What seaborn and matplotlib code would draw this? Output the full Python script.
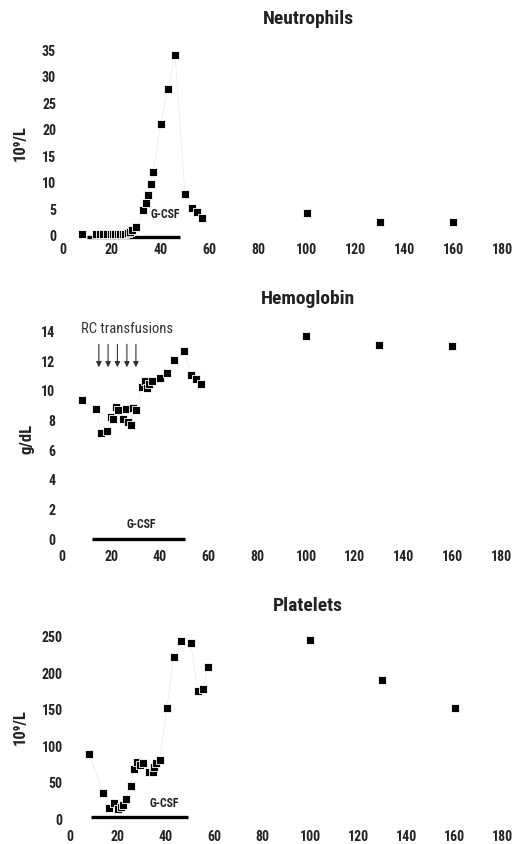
import numpy as np
import pandas as pd
import matplotlib
matplotlib.use("Agg")
import matplotlib.pyplot as plt
import matplotlib.font_manager as fm
import seaborn as sns

# days after transplant / values
neu_days = [8, 13.5, 15, 16.5, 18, 19.5, 20.5, 21.5, 22.5, 23.5, 24.5, 25.5, 26.5, 27.5, 28.5, 30,
            33, 34, 35, 36, 37, 40, 43, 46, 50, 53, 55, 57, 100, 130, 160]
neu_vals = [0.3, 0.3, 0.3, 0.3, 0.3, 0.3, 0.3, 0.3, 0.3, 0.3, 0.4, 0.4, 0.6, 0.8, 1.1, 1.6,
            4.9, 6.2, 7.7, 9.8, 12.0, 21.1, 27.6, 34.0, 7.9, 5.3, 4.5, 3.3, 4.4, 2.7, 2.7]

hb_days = [8, 14, 15.7, 18.2, 20, 21, 22, 23, 25, 26, 27, 28, 29, 30.3,
           32.6, 34.0, 34.9, 35.6, 36.9, 40, 43, 46, 50, 53, 55, 57, 100, 130, 160]
hb_vals = [9.4, 8.8, 7.2, 7.3, 8.25, 8.1, 8.95, 8.75, 8.1, 8.8, 7.9, 7.7, 8.85, 8.7,
           10.3, 10.7, 10.2, 10.45, 10.67, 10.9, 11.2, 12.1, 12.7, 11.1, 10.8, 10.5, 13.7, 13.1, 13.0]

plt_days = [8, 14, 16.3, 18.3, 20.2, 21.5, 22.3, 23.3, 25.5, 26.5, 27.9, 29, 30.4, 33.1, 34.4,
            35.1, 36, 37.4, 40.4, 43.2, 46.4, 50.3, 53.3, 55.5, 57.4, 100, 130, 160]
plt_vals = [89, 36, 15, 22, 14, 17, 19, 28, 46, 69, 78, 74, 77, 65, 65,
            72, 77, 81, 153, 222, 244, 241, 175, 179, 209, 246, 191, 152]

# G-CSF administration windows (start, end, y level)
gcsf_neu = [10, 48, -0.25]
gcsf_hb = [12, 50.3, 0]
gcsf_plt = [9, 49, 3]

# red cell transfusion days
rc_days = [15, 18.8, 22.6, 26.5, 30.2]

x_ticks = [0, 20, 40, 60, 80, 100, 120, 140, 160, 180]

sns.set_theme(style="white")

# pick a narrow font if there is one
names = {f.name for f in fm.fontManager.ttflist}
fam, stretch = None, "normal"
for n in ["Liberation Sans Narrow", "Roboto Condensed", "Open Sans Condensed",
          "Noto Sans Condensed", "DejaVu Sans Condensed"]:
    if n in names:
        fam = n
        break
if fam is None:
    for n in ["Noto Sans", "Roboto", "Open Sans", "DejaVu Sans"]:
        if any(f.name == n and str(f.stretch) in ("condensed", "semi-condensed", "extra-condensed")
               for f in fm.fontManager.ttflist):
            fam, stretch = n, "condensed"
            break
if fam is None:
    fam = "DejaVu Sans"
font = [fam, "DejaVu Sans"]
plt.rcParams["font.family"] = font
plt.rcParams["font.stretch"] = stretch

fig = plt.figure(figsize=(5.12, 8.44), dpi=100)

panels = [
    dict(days=neu_days, vals=neu_vals, pos=[0.1230, 0.7141, 0.8574, 0.2328], ylim=(-1, 36),
         yticks=[0, 5, 10, 15, 20, 25, 30, 35], ylabel="10⁹/L", lab=(-0.080, 0.5),
         title="Neutrophils", ty=19, gcsf=gcsf_neu, gtext=(42, 4.0)),
    dict(days=hb_days, vals=hb_vals, pos=[0.1217, 0.3505, 0.8568, 0.2741], ylim=(-0.6, 15),
         yticks=[0, 2, 4, 6, 8, 10, 12, 14], ylabel="g/dL", lab=(-0.064, 0.472),
         title="Hemoglobin", ty=299, gcsf=gcsf_hb, gtext=(32.2, 1.0)),
    dict(days=plt_days, vals=plt_vals, pos=[0.1363, 0.01888, 0.8455, 0.2398], ylim=(-12, 265),
         yticks=[0, 50, 100, 150, 200, 250], ylabel="10⁹/L", lab=(-0.097, 0.5),
         title="Platelets", ty=606, gcsf=gcsf_plt, gtext=(39.1, 21)),
]

for p in panels:
    ax = fig.add_axes(p["pos"])
    df = pd.DataFrame({"day": p["days"], "value": p["vals"]})
    early = df[df["day"] < 60]
    ax.plot(early["day"], early["value"], color="#e4e4e4", lw=0.4, zorder=1)
    sns.scatterplot(data=df, x="day", y="value", marker="s", s=32, color="black",
                    edgecolor="white", linewidth=0.6, ax=ax, zorder=3)
    g0, g1, gy = p["gcsf"]
    ax.plot([g0, g1], [gy, gy], color="black", lw=2.4, solid_capstyle="butt", zorder=2)
    ax.text(p["gtext"][0], p["gtext"][1], "G-CSF", ha="center", va="center",
            fontsize=8.5, fontweight="bold", color="#222222")
    ax.set_xlim(0, 180)
    ax.set_ylim(*p["ylim"])
    ax.set_xticks(x_ticks)
    ax.set_yticks(p["yticks"])
    ax.set_xlabel("")
    ax.set_ylabel(p["ylabel"], fontsize=12, fontweight="bold", color="#222222")
    ax.yaxis.set_label_coords(*p["lab"])
    ax.tick_params(length=0, labelsize=10, colors="#222222")
    ax.tick_params(axis="x", pad=1.5)
    ax.tick_params(axis="y", pad=5)
    for lbl in ax.get_xticklabels() + ax.get_yticklabels():
        lbl.set_fontweight("bold")
    for s in ax.spines.values():
        s.set_visible(False)
    ax.grid(False)
    fig.text(308 / 512, 1 - p["ty"] / 844, p["title"], ha="center", va="center",
             fontsize=14, fontweight="bold", color="#222222")
    if p["title"] == "Hemoglobin":
        for d in rc_days:
            ax.annotate("", xy=(d, 11.6), xytext=(d, 13.15),
                        arrowprops=dict(arrowstyle="-|>", color="#333333", lw=0.8,
                                        mutation_scale=8, shrinkA=0, shrinkB=0))
        ax.text(7.7, 14.15, "RC transfusions", ha="left", va="center", fontsize=10.5,
                color="#333333")

fig.savefig("out.png", dpi=100)
